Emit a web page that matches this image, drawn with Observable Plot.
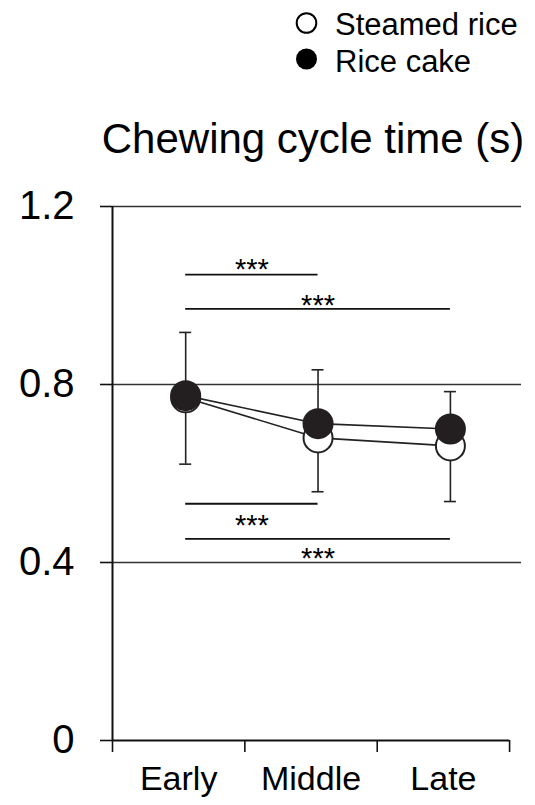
<!DOCTYPE html>
<html><head><meta charset="utf-8">
<script src="https://cdn.jsdelivr.net/npm/d3@7"></script>
<script src="https://cdn.jsdelivr.net/npm/@observablehq/plot@0.6"></script>
<style>
body{margin:0;background:#fff;font-family:"Liberation Sans",Arial,sans-serif;}
#wrap{position:relative;width:535px;height:805px;}
#chart{position:absolute;left:0;top:0;}
.abs{position:absolute;white-space:nowrap;line-height:1;color:#000;}
</style></head><body>
<div id="wrap">
<div id="chart"></div>
<svg style="position:absolute;left:0;top:0" width="535" height="90">
  <circle cx="306.5" cy="23" r="9.8" fill="#fff" stroke="#000" stroke-width="2"/>
  <circle cx="306.5" cy="59" r="10.5" fill="#000"/>
</svg>
<div class="abs" style="left:335px;top:9px;font-size:31px">Steamed rice</div>
<div class="abs" style="left:335px;top:46px;font-size:31px">Rice cake</div>
<div class="abs" style="left:91px;width:444px;top:118px;font-size:42px;text-align:center">Chewing cycle time (s)</div>
</div>
<script>
const phases = ["Early", "Middle", "Late"];
const steamedMean = [0.770, 0.680, 0.662];
const steamedLower = [0.621, 0.559, 0.537];
const cakeMean = [0.775, 0.712, 0.700];
const cakeUpper = [0.917, 0.833, 0.784];
const yTicks = [0, 0.4, 0.8, 1.2];
const yTickLabels = ["0", "0.4", "0.8", "1.2"];
const sigFrom = ["Early", "Early", "Early", "Early"];
const sigTo = ["Middle", "Late", "Middle", "Late"];
const sigLineY = [1.047, 0.970, 0.532, 0.453];
const sigTextY = [1.083, 1.002, 0.509, 0.435];
const sigLabel = ["***", "***", "***", "***"];

const pos = p => phases.indexOf(p) + 1;
const rows = phases.map((p, i) => ({
  x: i + 1, phase: p,
  sMean: steamedMean[i], sLow: steamedLower[i],
  cMean: cakeMean[i], cUp: cakeUpper[i]
}));
const sig = sigFrom.map((f, i) => ({
  x1: pos(f), x2: pos(sigTo[i]), y: sigLineY[i], ty: sigTextY[i], label: sigLabel[i]
}));
const bounds = [0.5, 1.5, 2.5, 3.5];
const dx = 7;

const chart = Plot.plot({
  width: 535, height: 805,
  marginTop: 206, marginBottom: 65, marginLeft: 112, marginRight: 14,
  style: {fontFamily: "'Liberation Sans', Arial, sans-serif", background: "transparent", color: "#000"},
  x: {domain: [0.5, 3.59], label: null},
  y: {domain: [0, 1.2], label: null},
  marks: [
    Plot.ruleY(yTicks.filter(v => v > 0), {x1: 0.5, x2: 3.59, stroke: "#333", strokeWidth: 1.6}),
    Plot.ruleX([0.5], {y1: 0, y2: 1.2, stroke: "#111", strokeWidth: 2}),
    Plot.ruleY([0], {x1: 0.5, x2: 3.5, stroke: "#111", strokeWidth: 2}),
    Plot.axisY({ticks: yTicks, tickFormat: d => yTickLabels[yTicks.indexOf(d)], tickSize: 12, tickPadding: 26, fontSize: 40, stroke: "#111", strokeWidth: 1.6, label: null}),
    Plot.axisX({ticks: bounds, tickFormat: () => "", tickSize: 12, stroke: "#111", strokeWidth: 1.6, label: null}),
    Plot.axisX({ticks: [1, 2, 3], tickFormat: d => phases[d - 1], tickSize: 0, tickPadding: 25, fontSize: 34, label: null}),
    // error bars
    Plot.ruleX(rows, {x: "x", y1: "cMean", y2: "cUp", dx, stroke: "#222", strokeWidth: 1.6}),
    Plot.ruleY(rows, {y: "cUp", x1: "x", x2: "x", dx, insetLeft: -6, insetRight: -6, stroke: "#222", strokeWidth: 1.6}),
    Plot.ruleX(rows, {x: "x", y1: "sLow", y2: "sMean", dx, stroke: "#222", strokeWidth: 1.6}),
    Plot.ruleY(rows, {y: "sLow", x1: "x", x2: "x", dx, insetLeft: -6, insetRight: -6, stroke: "#222", strokeWidth: 1.6}),
    // lines
    Plot.line(rows, {x: "x", y: "sMean", dx, stroke: "#222", strokeWidth: 1.6}),
    Plot.line(rows, {x: "x", y: "cMean", dx, stroke: "#222", strokeWidth: 1.6}),
    // dots
    Plot.dot(rows, {x: "x", y: "sMean", dx, r: 14.5, fill: "#fff", stroke: "#222", strokeWidth: 2}),
    Plot.dot(rows, {x: "x", y: "cMean", dx, r: 15.5, fill: "#231f20", stroke: "none"}),
    // significance
    Plot.ruleY(sig, {y: "y", x1: "x1", x2: "x2", dx, stroke: "#111", strokeWidth: 1.8}),
    Plot.text(sig, {x: d => (d.x1 + d.x2) / 2, y: "ty", text: "label", dx, lineAnchor: "top", fontSize: 29, fill: "#000"})
  ]
});
document.getElementById("chart").appendChild(chart);
</script>
</body></html>
